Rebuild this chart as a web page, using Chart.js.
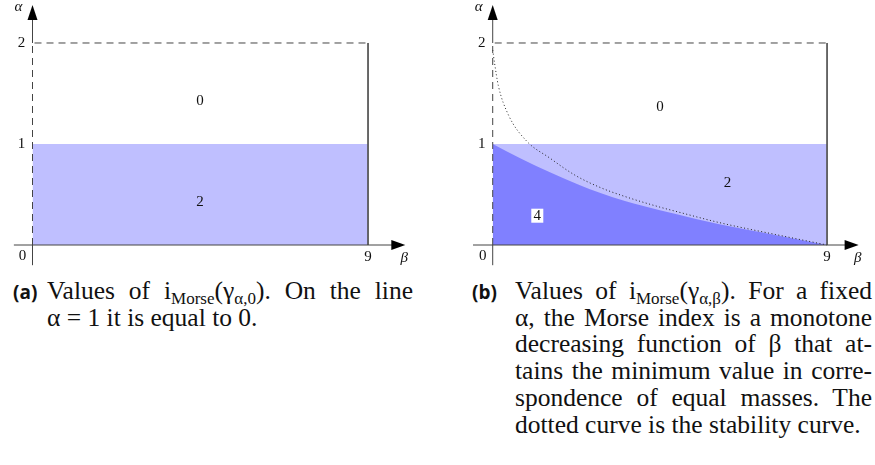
<!DOCTYPE html>
<html>
<head>
<meta charset="utf-8">
<script src="https://cdn.jsdelivr.net/npm/chart.js@4.4.1/dist/chart.umd.min.js"></script>
<style>
  body { margin: 0; background: #fff; width: 875px; height: 465px; position: relative; overflow: hidden; }
  .plot { position: absolute; top: 0; height: 270px; }
  #pa { left: 0; width: 440px; }
  #pb { left: 440px; width: 435px; }
  .cap { position: absolute; top: 278px; font-family: "Liberation Serif", "DejaVu Serif", serif;
         font-size: 25.5px; line-height: 26.7px; color: #111; }
  .cap .lab { position: absolute; top: 1px; font-family: "Open Sans", "DejaVu Sans", sans-serif; font-weight: bold; font-size: 19px; }
  .cap .ln { text-align: justify; text-align-last: justify; white-space: nowrap; }
  .cap .ln.last { text-align-last: left; }
  .cap sub { font-size: 17px; line-height: 0; vertical-align: -5px; }
</style>
</head>
<body>
<div class="plot" id="pa"><canvas id="chartA"></canvas></div>
<div class="plot" id="pb"><canvas id="chartB"></canvas></div>

<div class="cap" style="left:47px;width:366px">
  <span class="lab" style="left:-34px">(a)</span>
  <div class="ln">Values of i<sub>Morse</sub>(γ<sub>α,0</sub>). On the line</div>
  <div class="ln last">α = 1 it is equal to 0.</div>
</div>
<div class="cap" style="left:515px;width:357px">
  <span class="lab" style="left:-43px">(b)</span>
  <div class="ln">Values of i<sub>Morse</sub>(γ<sub>α,β</sub>). For a fixed</div>
  <div class="ln">α, the Morse index is a monotone</div>
  <div class="ln">decreasing function of β that at-</div>
  <div class="ln">tains the minimum value in corre-</div>
  <div class="ln">spondence of equal masses. The</div>
  <div class="ln last">dotted curve is the stability curve.</div>
</div>

<script>
// region outline: beta 0..9, alpha 0..2
const betaMax = 9;
const alphaMax = 2;
const alphaSplit = 1;

// lower boundary of the index-4 region (beta, alpha)
const curve4Beta  = [0, 0.74, 1.54, 2.3, 2.9, 3.56, 4.5, 4.9, 6.1, 7.6, 9];
const curve4Alpha = [1, 0.86, 0.72, 0.6, 0.515, 0.435, 0.345, 0.31, 0.205, 0.1, 0];

// dotted stability curve
const stabBeta  = [0, 0.05, 0.15, 0.42, 0.91, 1.54, 2.22, 2.89, 3.56, 4.5, 4.91, 6.12, 7.6, 9];
const stabAlpha = [1.93, 1.8, 1.58, 1.29, 1.03, 0.86, 0.69, 0.57, 0.48, 0.375, 0.335, 0.22, 0.105, 0];

// index labels
const labelsA = [{ t: "0", b: 4.49, a: 1.43 }, { t: "2", b: 4.49, a: 0.43 }];
const labelsB = [{ t: "0", b: 4.5, a: 1.37 }, { t: "2", b: 6.32, a: 0.61 }, { t: "4", b: 1.2, a: 0.29, box: true }];

const yTicks = ["2", "1"];

const LIGHT = "#bfbfff";
const DARK = "#8080ff";
const serif = '"Liberation Serif", "DejaVu Serif", serif';

const pts = (xs, ys) => xs.map((x, i) => ({ x: x, y: ys[i] }));

const axesPlugin = {
  id: "axes",
  afterDatasetsDraw(chart, args, o) {
    const { ctx, scales: { x, y } } = chart;
    const x0 = x.getPixelForValue(0), y0 = y.getPixelForValue(0);
    const y2 = y.getPixelForValue(alphaMax);
    const xL = x.getPixelForValue(o.xStart), xR = x.getPixelForValue(o.xEnd);
    const yB = y.getPixelForValue(o.yStart), yT = y.getPixelForValue(o.yEnd);
    ctx.save();
    ctx.strokeStyle = "#444";
    ctx.lineWidth = 1;
    ctx.beginPath();
    ctx.moveTo(xL, y0); ctx.lineTo(xR - 12, y0);
    ctx.moveTo(x0, yB); ctx.lineTo(x0, y0);
    ctx.moveTo(x0, y2); ctx.lineTo(x0, yT + 12);
    ctx.stroke();
    // arrow heads
    ctx.fillStyle = "#000";
    ctx.beginPath();
    ctx.moveTo(xR, y0); ctx.lineTo(xR - 14, y0 - 5); ctx.lineTo(xR - 14, y0 + 5); ctx.closePath();
    ctx.fill();
    ctx.beginPath();
    ctx.moveTo(x0, yT); ctx.lineTo(x0 - 5, yT + 15); ctx.lineTo(x0 + 5, yT + 15); ctx.closePath();
    ctx.fill();

    ctx.fillStyle = "#111";
    ctx.font = "15px " + serif;
    ctx.textAlign = "center";
    ctx.textBaseline = "middle";
    yTicks.forEach(t => ctx.fillText(t, x0 - 11, y.getPixelForValue(+t)));
    ctx.fillText("0", x0 - 10, y0 + 11);
    ctx.fillText(String(betaMax), x.getPixelForValue(betaMax), y0 + 12);
    ctx.font = "italic 15px " + serif;
    ctx.fillText("α", x0 - 14, yT + 2);
    ctx.fillText("β", xR - 1, y0 + 13);

    ctx.font = "15px " + serif;
    o.labels.forEach(l => {
      const px = x.getPixelForValue(l.b), py = y.getPixelForValue(l.a);
      if (l.box) {
        ctx.fillStyle = "#fff";
        ctx.fillRect(px - 6, py - 7, 12, 14);
        ctx.fillStyle = "#111";
      }
      ctx.fillText(l.t, px, py);
    });
    ctx.restore();
  }
};

function makeChart(id, extraSets, range, axisOpts) {
  const sets = [
    { data: pts([0, 0, betaMax], [0, alphaMax, alphaMax]), borderColor: "#444", borderWidth: 1,
      borderDash: [7, 5], fill: false, order: 0 },
    { data: pts([betaMax, betaMax], [alphaMax, 0]), borderColor: "#555", borderWidth: 1,
      fill: false, order: 1 },
    { data: pts([0, betaMax], [alphaSplit, alphaSplit]), borderWidth: 0, borderColor: LIGHT,
      backgroundColor: LIGHT, fill: "origin", order: 9 }
  ].concat(extraSets);
  sets.forEach(s => { s.showLine = true; s.pointRadius = 0; });
  return new Chart(document.getElementById(id), {
    type: "scatter",
    data: { datasets: sets },
    options: {
      responsive: true,
      maintainAspectRatio: false,
      animation: false,
      layout: { padding: 0 },
      scales: {
        x: { type: "linear", display: false, min: range[0], max: range[1] },
        y: { type: "linear", display: false, min: range[2], max: range[3] }
      },
      plugins: { legend: { display: false }, tooltip: { enabled: false }, axes: axisOpts }
    },
    plugins: [axesPlugin]
  });
}

makeChart("chartA", [], [-0.872, 10.93, -0.2475, 2.4257],
  { xStart: -0.5, xEnd: 10, yStart: -0.2, yEnd: 2.376, labels: labelsA });

makeChart("chartB", [
  { data: pts(curve4Beta, curve4Alpha), borderWidth: 0, borderColor: DARK, backgroundColor: DARK,
    fill: "origin", cubicInterpolationMode: "monotone", order: 5 },
  { data: pts(stabBeta, stabAlpha), borderColor: "#222", borderWidth: 1, borderDash: [1, 2.5],
    fill: false, cubicInterpolationMode: "monotone", order: 2 }
], [-1.419, 10.29, -0.2475, 2.4257],
  { xStart: -0.53, xEnd: 9.85, yStart: -0.2, yEnd: 2.376, labels: labelsB });
</script>
</body>
</html>
